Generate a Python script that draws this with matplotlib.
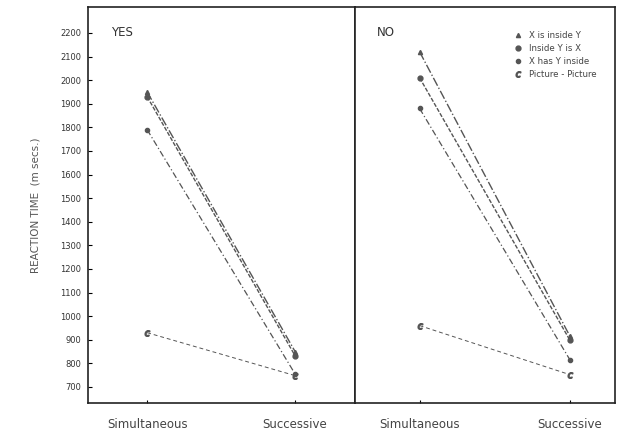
from matplotlib import pyplot as plt

conditions = ["Simultaneous", "Successive"]
series = ["X is inside Y", "Inside Y is X", "X has Y inside", "Picture - Picture"]

yes_x_inside_y = [1950, 850]
yes_inside_y_x = [1930, 832]
yes_x_has_y = [1790, 755]
yes_pic_pic = [930, 748]

no_x_inside_y = [2120, 915]
no_inside_y_x = [2010, 898]
no_x_has_y = [1880, 815]
no_pic_pic = [960, 752]

yticks = list(range(700, 2300, 100))

plt.rcParams['font.family'] = ['DejaVu Sans']
grey = "#555555"
styles = [
    dict(ls="-.", marker="^", ms=3, lw=1.0),
    dict(ls=(0, (3, 1.2)), marker="o", ms=3.5, lw=1.0),
    dict(ls=(0, (5, 2, 1, 2)), marker="o", ms=3, lw=0.9),
    dict(ls=(0, (4, 3)), marker="$c$", ms=4, lw=0.7),
]

fig = plt.figure(figsize=[6.18, 4.36], dpi=100)
ax1 = fig.add_axes([88/618, 33/436, (355-88)/618, (403-7)/436])
ax2 = fig.add_axes([355/618, 33/436, (615-355)/618, (403-7)/436])

panels = [
    (ax1, "YES", [yes_x_inside_y, yes_inside_y_x, yes_x_has_y, yes_pic_pic], (-0.40, 1.405)),
    (ax2, "NO", [no_x_inside_y, no_inside_y_x, no_x_has_y, no_pic_pic], (-0.43, 1.30)),
]

for ax, title, data, xl in panels:
    for vals, name, st in zip(data, series, styles):
        ax.plot([0, 1], vals, color=grey, label=name, **st)
    ax.set_xlim(*xl)
    ax.set_ylim(632, 2310)
    ax.set_xticks([0, 1])
    ax.set_xticklabels(conditions, fontsize=8.5, color="#444444")
    ax.tick_params(axis="x", length=2, direction="in", pad=11)
    ax.text(0.085, 0.935, title, transform=ax.transAxes, fontsize=8.5,
            color="#333333", va="center", ha="left")
    for sp in ax.spines.values():
        sp.set_color("#222222")
        sp.set_linewidth(1.2)

ax1.set_yticks(yticks)
ax1.set_yticklabels([str(v) for v in yticks], fontsize=6, color="#333333")
ax1.tick_params(axis="y", length=3, direction="in", pad=5)
ax1.set_ylabel("REACTION TIME  (m secs.)", fontsize=7.5, color="#555555", labelpad=14)
ax2.set_yticks([])

leg = ax2.legend(loc="upper left", fontsize=6.2, frameon=False, handlelength=0,
                 handletextpad=1.2, labelspacing=0.45, borderaxespad=0,
                 bbox_to_anchor=(0.615, 0.948))
for h in leg.legend_handles:
    h.set_linestyle("none")
for t in leg.get_texts():
    t.set_color("#444444")

plt.savefig("out.png", dpi=100)
